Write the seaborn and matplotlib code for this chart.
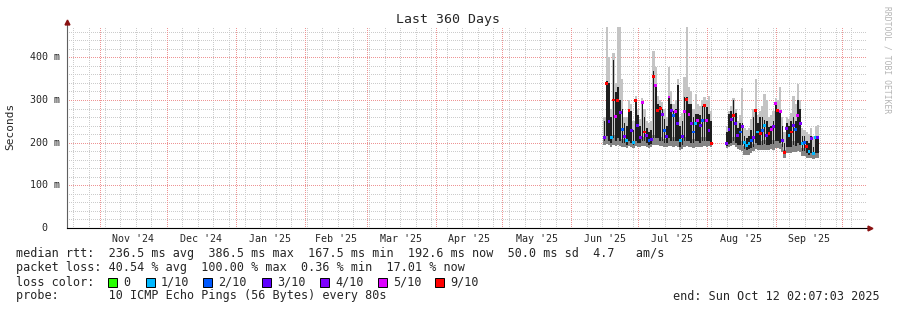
import numpy as np
import pandas as pd
import matplotlib
matplotlib.use("Agg")
import matplotlib.pyplot as plt
import matplotlib.dates as mdates
import seaborn as sns
from matplotlib.patches import Rectangle
from matplotlib.transforms import blended_transform_factory

# ---------------- data ----------------
START = "2025-06-16"          # first daily sample
X_START = "2024-10-17 02:07:03"
X_END = "2025-10-12 02:07:03"
N = None

MEDIAN = [213, 338, 250, 212, 300, 262, 298, 270, 230, 215,
          205, 276, 229, 200, 299, 240, 213, 293, 225, 217,
          205, 208, 354, 334, 276, 280, 265, 229, 215, 307,
          276, 264, 272, 245, 206, 215, 272, 301, 265, 245,
          225, 245, 252, 240, 252, 288, 252, 229, 198,
          N, N, N, N, N, N,
          199, 230, 255, 264, 245,
          217, 225, 237, 200, 194, 198, 205, 213, 276, 225,
          221, 229, 240, 217, 221, 230, 237, 291, 276, 272,
          205, 178, 233, 217, 225, 240, 230, 264, 245, 198,
          200, 190, 180, 210, 174, 213, 213]

CORE_LO = [205, 215, 205, 200, 210, 205, 210, 205, 200, 200,
           195, 205, 200, 195, 205, 200, 200, 205, 205, 200,
           195, 198, 210, 210, 210, 205, 205, 200, 200, 210,
           205, 205, 205, 205, 190, 195, 205, 205, 205, 200,
           200, 205, 205, 200, 205, 205, 205, 205, 195,
           N, N, N, N, N, N,
           192, 198, 200, 205, 200,
           195, 195, 195, 185, 182, 185, 188, 190, 200, 195,
           195, 195, 198, 195, 195, 198, 198, 205, 205, 200,
           190, 175, 190, 190, 190, 195, 192, 200, 195, 180,
           180, 175, 172, 175, 170, 175, 175]

CORE_HI = [250, 345, 340, 260, 393, 318, 330, 300, 280, 245,
           240, 280, 275, 230, 300, 265, 240, 295, 260, 235,
           225, 230, 369, 338, 290, 285, 280, 255, 240, 307,
           291, 275, 280, 334, 240, 250, 307, 307, 290, 290,
           260, 268, 268, 265, 285, 290, 284, 268, 250,
           N, N, N, N, N, N,
           225, 268, 275, 299, 270,
           235, 245, 245, 215, 210, 215, 230, 260, 280, 245,
           260, 260, 252, 250, 236, 240, 250, 295, 280, 272,
           240, 200, 245, 240, 250, 260, 250, 299, 280, 215,
           215, 205, 200, 215, 190, 215, 215]

SMOKE_HI = [260, 490, 400, 280, 410, 340, 490, 490, 350, 260,
            260, 300, 290, 250, 310, 280, 255, 305, 280, 250,
            245, 250, 415, 377, 310, 300, 295, 280, 260, 377,
            320, 290, 300, 350, 260, 270, 354, 490, 330, 320,
            280, 315, 290, 285, 300, 307, 300, 310, 275,
            N, N, N, N, N, N,
            240, 275, 285, 305, 280,
            250, 265, 327, 235, 230, 235, 255, 280, 350, 265,
            275, 285, 315, 300, 260, 265, 275, 305, 300, 330,
            260, 225, 260, 255, 270, 310, 290, 338, 300, 235,
            230, 225, 220, 235, 215, 240, 241]

SMOKE_LO = [195, 198, 195, 190, 195, 192, 195, 192, 190, 190,
            188, 192, 190, 188, 192, 190, 190, 192, 192, 190,
            188, 190, 195, 195, 195, 192, 192, 190, 190, 192,
            192, 190, 192, 190, 182, 185, 190, 192, 190, 190,
            188, 190, 190, 190, 190, 192, 190, 192, 190,
            N, N, N, N, N, N,
            188, 190, 192, 195, 190,
            185, 182, 180, 172, 170, 172, 175, 180, 185, 182,
            182, 182, 182, 182, 182, 185, 182, 188, 188, 185,
            178, 165, 175, 175, 175, 178, 178, 180, 178, 168,
            168, 165, 163, 165, 162, 165, 165]

LOSS = [4, 9, 3, 1, 9, 5, 9, 4, 2, 4,
        1, 9, 3, 1, 9, 3, 4, 5, 9, 4,
        2, 3, 9, 5, 9, 9, 4, 2, 3, 5,
        4, 2, 5, 3, 1, 3, 5, 9, 5, 4,
        2, 1, 5, 3, 2, 9, 5, 4, 9,
        N, N, N, N, N, N,
        4, 3, 4, 9, 3,
        4, 2, 4, 1, 1, 1, 2, 4, 9, 1,
        9, 2, 1, 3, 9, 5, 4, 5, 9, 5,
        3, 9, 4, 1, 9, 3, 2, 5, 4, 1,
        2, 9, 1, 4, 1, 1, 3]

LOSS_LEVELS = [0, 1, 2, 3, 4, 5, 9]
LOSS_LABELS = ["0", "1/10", "2/10", "3/10", "4/10", "5/10", "9/10"]
LOSS_COLORS = ["#26ff00", "#00b8ff", "#0059ff", "#5e00ff", "#7e00ff", "#dd00ff", "#ff0000"]

Y_TICKS = [0, 100, 200, 300, 400]
Y_LABELS = ["0", "100 m", "200 m", "300 m", "400 m"]
MONTH_LABELS = ["Nov '24", "Dec '24", "Jan '25", "Feb '25", "Mar '25", "Apr '25",
                "May '25", "Jun '25", "Jul '25", "Aug '25", "Sep '25"]

TITLE = "Last 360 Days"
YLABEL = "Seconds"
ROW1 = "median rtt:  236.5 ms avg  386.5 ms max  167.5 ms min  192.6 ms now  50.0 ms sd  4.7   am/s"
ROW2 = "packet loss: 40.54 % avg  100.00 % max  0.36 % min  17.01 % now"
ROW3 = "loss color:"
ROW4 = "probe:       10 ICMP Echo Pings (56 Bytes) every 80s"
END_TXT = "end: Sun Oct 12 02:07:03 2025"
WATERMARK = "RRDTOOL / TOBI OETIKER"

# ---------------- figure ----------------
sns.set_theme(style="white")
plt.rcParams['font.family'] = ['DejaVu Sans Mono', 'DejaVu Sans']
plt.rcParams['lines.scale_dashes'] = False

W, H = 897, 310
fig = plt.figure(figsize=(W / 100, H / 100), dpi=100, facecolor="white")
ax = fig.add_axes([67 / W, 82 / H, 800 / W, 201 / H])
ax.set_facecolor("white")

dates = pd.date_range(START, periods=len(MEDIAN), freq="D")
df = pd.DataFrame({"date": dates, "median": MEDIAN, "core_lo": CORE_LO, "core_hi": CORE_HI,
                   "hi": SMOKE_HI, "lo": SMOKE_LO, "loss": LOSS}).dropna()
df["loss"] = df["loss"].astype(int)

x0 = pd.Timestamp(X_START)
x1 = pd.Timestamp(X_END)
ax.set_xlim(x0, x1)
ax.set_ylim(0, 471)

# grid (1px dots every 2px, crisp)
grey = "#cccccc"
red = "#ee9494"
dash = (0, (0.5, 0.94))
lw = 0.72
gkw = dict(lw=lw, ls=dash, antialiased=False)
weeks = pd.date_range(x0.normalize(), x1, freq="W-SUN")
for w in weeks:
    ax.axvline(w, color=grey, zorder=0, **gkw)
for yv in np.arange(20, 471, 20):
    if yv % 100:
        ax.axhline(yv, color=grey, zorder=0, **gkw)
months = pd.date_range("2024-11-01", "2025-10-01", freq="MS")
for m in months:
    ax.axvline(m, color=red, zorder=0.5, **gkw)
for yv in Y_TICKS[1:]:
    ax.axhline(yv, color=red, zorder=0.5, **gkw)

# smoke
ax.bar(df["date"], df["hi"] - df["lo"], bottom=df["lo"], width=1.0,
       color="#c4c4c4", linewidth=0, zorder=2)
ax.bar(df["date"], df["core_lo"] - df["lo"] + 8, bottom=df["lo"], width=1.0,
       color="#858585", linewidth=0, zorder=3)
ax.bar(df["date"], df["core_hi"] - df["core_lo"], bottom=df["core_lo"], width=0.75,
       color="#1e1e1e", linewidth=0, zorder=4)

# median with loss colour
sns.scatterplot(data=df, x="date", y="median", hue="loss",
                palette=dict(zip(LOSS_LEVELS, LOSS_COLORS)), marker="s", s=4.5,
                linewidth=0, legend=False, ax=ax, zorder=6)

# axes decorations
ax.set_xlabel("")
ax.set_ylabel("")
for s in ["top", "right"]:
    ax.spines[s].set_visible(False)
ax.spines["left"].set_color("#606060")
ax.spines["left"].set_linewidth(0.8)
ax.spines["bottom"].set_color("black")
ax.spines["bottom"].set_linewidth(0.8)
ax.plot([0], [1.025], marker="^", color="#8a1212", markersize=3.5,
        transform=ax.transAxes, clip_on=False, zorder=10)
ax.plot([1.004], [0], marker=">", color="#8a1212", markersize=3.5,
        transform=ax.transAxes, clip_on=False, zorder=10)
ax.plot([0, 0], [1.0, 1.025], color="#606060", lw=0.8, transform=ax.transAxes, clip_on=False)

label_pos = [months[i] + (months[i + 1] - months[i]) / 2 for i in range(len(MONTH_LABELS))]
ax.set_xticks(label_pos)
ax.set_xticklabels(MONTH_LABELS, fontsize=7.2)
ax.tick_params(axis="x", length=0, pad=4)
ax.set_yticks(Y_TICKS)
ax.set_yticklabels([])
ax.tick_params(axis="y", length=0)
trans = blended_transform_factory(ax.transAxes, ax.transData)
for v, lab in zip(Y_TICKS, Y_LABELS):
    xr = -7 / 800 if lab != "0" else -20 / 800
    ax.text(xr, v, lab, transform=trans, ha="right", va="center", fontsize=7.2)

# texts
def fy(y):
    return 1 - y / H

fig.text(448 / W, fy(19), TITLE, ha="center", va="center", fontsize=9.5)
fig.text(10 / W, fy(126), YLABEL, ha="center", va="center", rotation=90, fontsize=8)
fig.text(887 / W, fy(60), WATERMARK, ha="center", va="center", rotation=270,
         fontsize=5.8, color="#b4b4b4")

fs = 8.5
fig.text(16 / W, fy(254), ROW1, ha="left", va="center", fontsize=fs)
fig.text(16 / W, fy(268), ROW2, ha="left", va="center", fontsize=fs)
fig.text(16 / W, fy(282), ROW3, ha="left", va="center", fontsize=fs)
fig.text(16 / W, fy(296), ROW4, ha="left", va="center", fontsize=fs)
fig.text(880 / W, fy(296), END_TXT, ha="right", va="center", fontsize=fs)

box_x = [108, 146, 203, 262, 320, 378, 435]
for bx, lab, col in zip(box_x, LOSS_LABELS, LOSS_COLORS):
    fig.add_artist(Rectangle((bx / W, fy(287)), 9 / W, 9 / H, transform=fig.transFigure,
                             facecolor=col, edgecolor="black", linewidth=0.7))
    fig.text((bx + 15) / W, fy(282), lab, ha="left", va="center", fontsize=fs)

fig.savefig("out.png", dpi=100, facecolor="white")
